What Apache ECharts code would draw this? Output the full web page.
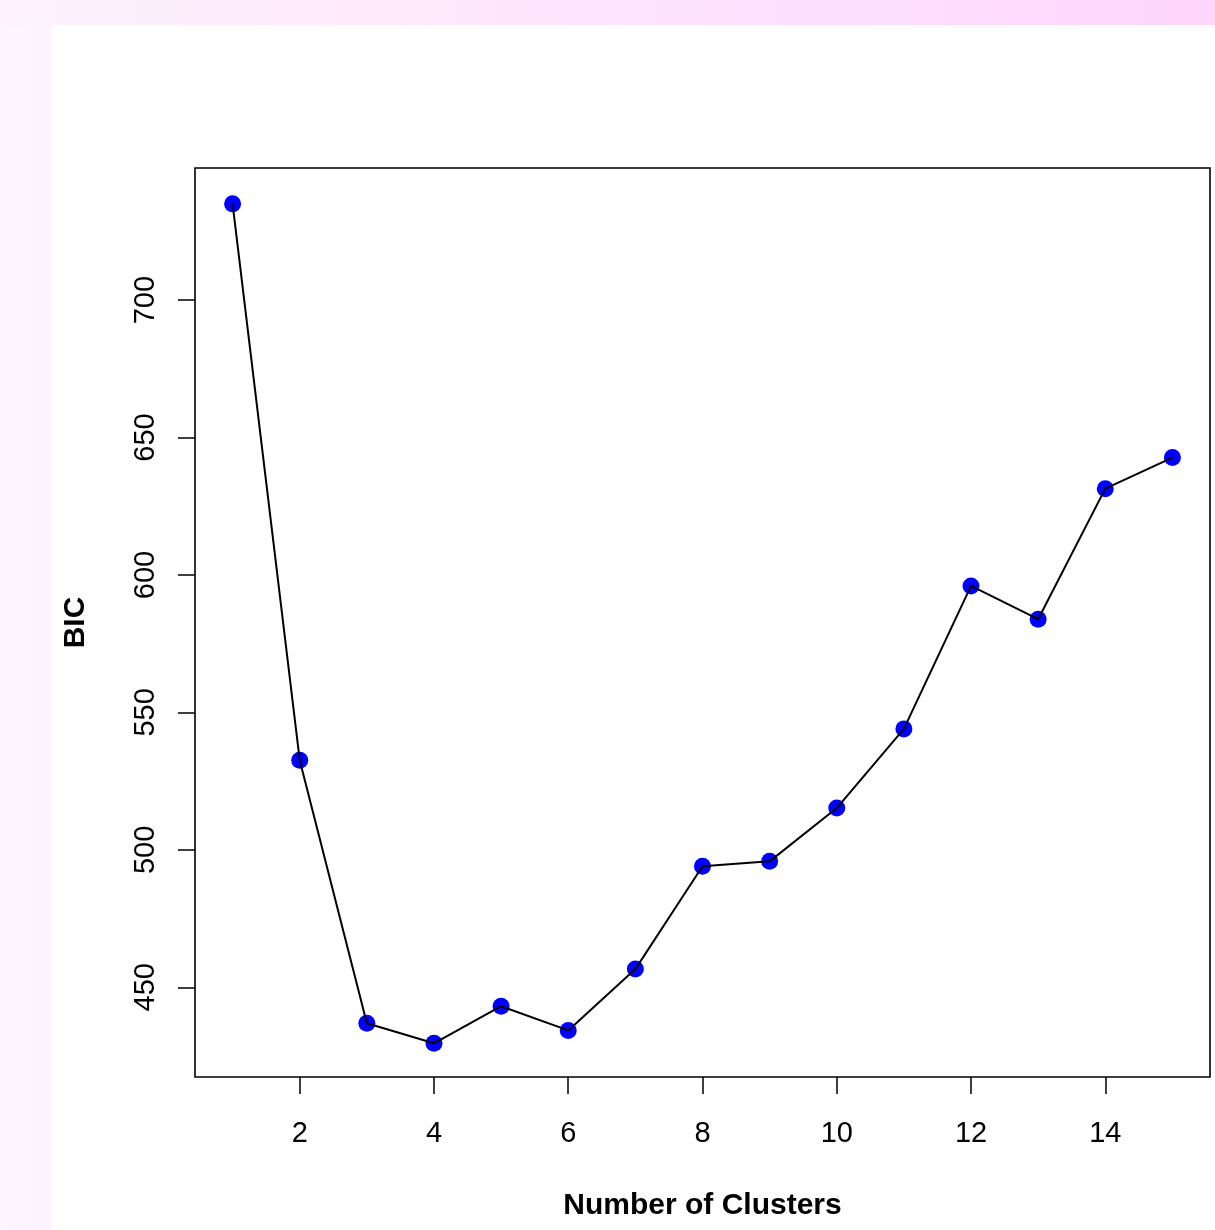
<!DOCTYPE html>
<html>
<head>
<meta charset="utf-8">
<script src="https://cdn.jsdelivr.net/npm/echarts@6/dist/echarts.min.js"></script>
<style>
html,body{margin:0;padding:0;background:#fff;}
#chart{width:1215px;height:1230px;}
</style>
</head>
<body>
<div id="chart"></div>
<script>
// Data
const clusters = [1,2,3,4,5,6,7,8,9,10,11,12,13,14,15];
const bic = [735.0,532.6,436.9,429.6,443.1,434.3,456.6,494.0,495.8,515.2,544.0,596.0,583.9,631.4,642.7];
const xTicks = [2,4,6,8,10,12,14];
const yTicks = [450,500,550,600,650,700];
const xTitle = 'Number of Clusters';
const yTitle = 'BIC';

const pts = clusters.map((c,i)=>[c,bic[i]]);
const font = 'Liberation Sans, Arial, Helvetica, sans-serif';

const chart = echarts.init(document.getElementById('chart'), null, {renderer:'canvas'});
chart.setOption({
  backgroundColor:'#ffffff',
  animation:false,
  graphic:[
    {type:'rect', z:-10, silent:true, shape:{x:0,y:0,width:1215,height:25},
     style:{fill:new echarts.graphic.LinearGradient(0,0,1,0,[{offset:0,color:'#fdf2fc'},{offset:1,color:'#fed6fe'}])}},
    {type:'rect', z:-10, silent:true, shape:{x:0,y:25,width:52,height:1205},
     style:{fill:new echarts.graphic.LinearGradient(0,0,1,0,[{offset:0,color:'#fdf6fd'},{offset:1,color:'#fdf2fd'}])}}
  ],
  grid:{left:195, top:168, right:5, bottom:153, show:true, borderColor:'#000', borderWidth:1.6, backgroundColor:'transparent'},
  xAxis:{
    type:'value', min:0.44, max:15.56,
    name:xTitle, nameLocation:'middle', nameGap:114,
    nameTextStyle:{fontFamily:font, fontWeight:'bold', fontSize:30, color:'#000'},
    axisLine:{show:false},
    splitLine:{show:false},
    axisTick:{show:true, length:17, lineStyle:{color:'#000', width:1.5}, customValues:xTicks},
    axisLabel:{fontFamily:font, fontSize:29, color:'#000', margin:42, customValues:xTicks}
  },
  yAxis:{
    type:'value', min:417.35, max:748.05,
    name:yTitle, nameLocation:'middle', nameGap:104, nameRotate:90,
    nameTextStyle:{fontFamily:font, fontWeight:'bold', fontSize:30, color:'#000'},
    axisLine:{show:false},
    splitLine:{show:false},
    axisTick:{show:true, length:17, lineStyle:{color:'#000', width:1.5}, customValues:yTicks},
    axisLabel:{fontFamily:font, fontSize:29, color:'#000', margin:35, rotate:90, customValues:yTicks}
  },
  series:[
    {type:'scatter', data:pts, symbol:'circle', symbolSize:17, itemStyle:{color:'#0000ff', opacity:1}, z:2},
    {type:'line', data:pts, showSymbol:false, symbol:'none', lineStyle:{color:'#000', width:2}, z:3}
  ]
});
</script>
</body>
</html>
